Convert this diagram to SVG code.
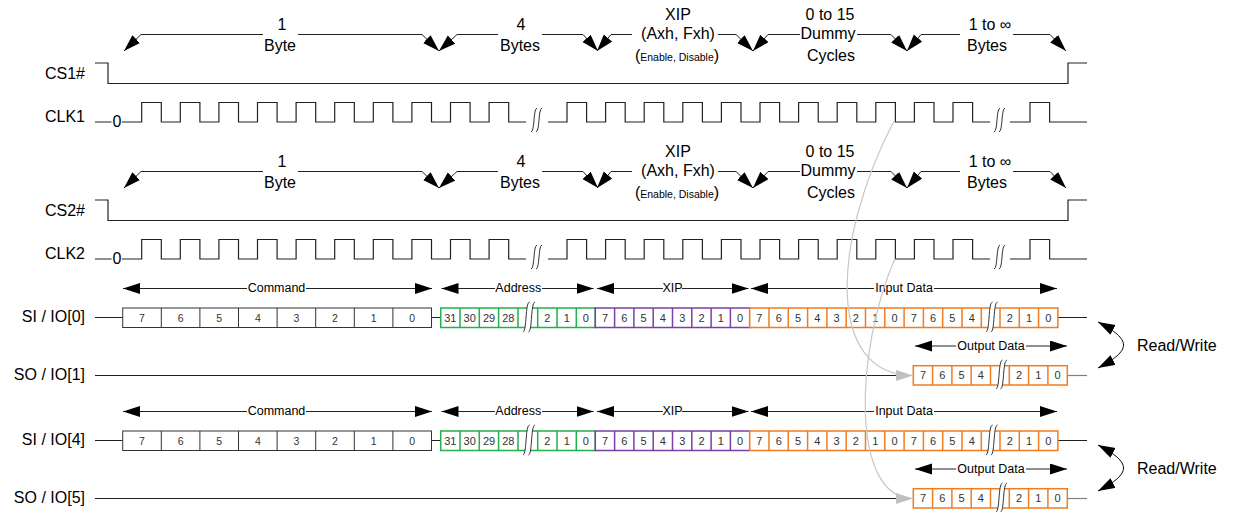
<svg xmlns="http://www.w3.org/2000/svg" width="1233" height="512" viewBox="0 0 1233 512">
<defs>
<marker id="ah" markerUnits="userSpaceOnUse" markerWidth="18" markerHeight="12" refX="17" refY="5.5" orient="auto"><path d="M0,0 L17,5.5 L0,11 z" fill="#000"/></marker>
<marker id="ahr" markerUnits="userSpaceOnUse" markerWidth="18" markerHeight="12" refX="17" refY="5.5" orient="auto-start-reverse"><path d="M0,0 L17,5.5 L0,11 z" fill="#000"/></marker>
<marker id="ahg" markerUnits="userSpaceOnUse" markerWidth="18" markerHeight="12" refX="17" refY="5.5" orient="auto"><path d="M0,0 L17,5.5 L0,11 z" fill="#c0c0c0"/></marker>
</defs>
<style>
text{font-family:"Liberation Sans",Arial,sans-serif;fill:#000}
.lbl{font-size:16px;text-anchor:end}
.big{font-size:16px;text-anchor:middle}
.sm{font-size:12.5px;text-anchor:middle}
.d{font-size:11px;text-anchor:middle;fill:#333}
.dc{font-size:10.5px;text-anchor:middle;fill:#333}
.w{fill:none;stroke:#222;stroke-width:1.2}
.a{fill:none;stroke:#222;stroke-width:1;marker-end:url(#ah)}
.brk{fill:none;stroke:#333;stroke-width:1}
.cmd{fill:#fff;stroke:#333;stroke-width:1}
.grn{fill:#fff;stroke:#22b04b;stroke-width:1.5}
.pur{fill:#fff;stroke:#7a3fa8;stroke-width:1.5}
.org{fill:#fff;stroke:#f07c22;stroke-width:1.5}
.gw{fill:#fff;stroke:none}
.gc{fill:none;stroke:#c8c8c8;stroke-width:1.2;marker-end:url(#ahg)}
</style>

<g id="section1">
  <g id="annot1">
    <text class="big" x="282" y="30">1</text><text class="big" x="280" y="51">Byte</text>
    <text class="big" x="521" y="30">4</text><text class="big" x="520" y="51">Bytes</text>
    <text class="big" x="678" y="20">XIP</text><text class="big" x="678" y="38.5">(Axh, Fxh)</text>
    <text class="big" x="677" y="60.5">(<tspan font-size="10.5">Enable, Disable</tspan>)</text>
    <text class="big" x="830" y="20">0 to 15</text><text class="big" x="828" y="38.5">Dummy</text><text class="big" x="831" y="60.5">Cycles</text>
    <text class="big" x="990" y="30">1 to ∞</text><text class="big" x="987" y="51">Bytes</text>
    <path class="a" d="M263,34.5 H141 L124,51"/>
    <path class="a" d="M298,34.5 H422 L439,51"/>
    <path class="a" d="M498,34.5 H457 L439,51"/>
    <path class="a" d="M542,34.5 H583 L598,51"/>
    <path class="a" d="M632,34.5 H611 L597,51"/>
    <path class="a" d="M718,34.5 H736 L753,51"/>
    <path class="a" d="M800,34.5 H768 L753,51"/>
    <path class="a" d="M857,34.5 H891 L907,51"/>
    <path class="a" d="M960,34.5 H921 L907,51"/>
    <path class="a" d="M1013,34.5 H1050 L1066,51"/>
  </g>
  <g id="cs1">
    <text class="lbl" x="85" y="79">CS1#</text>
    <path class="w" d="M95,63 H108 V83.5 H1068 V63 H1087"/>
  </g>
  <g id="clk1">
    <text class="lbl" x="85" y="122">CLK1</text>
    <text class="big" x="117" y="127">0</text>
    <path class="w" d="M95,122 H111.5 M122,122 H141.7 V102.5 H161.3 V122 H180.3 V102.5 H199.9 V122 H218.9 V102.5 H238.5 V122 H257.5 V102.5 H277.1 V122 H296.1 V102.5 H315.7 V122 H334.7 V102.5 H354.3 V122 H373.3 V102.5 H392.9 V122 H411.9 V102.5 H431.5 V122 H450.5 V102.5 H470.1 V122 H489.1 V102.5 H508.7 V122 H526 M548,122 H567 V102.5 H586.6 V122 H605.6 V102.5 H625.2 V122 H644.2 V102.5 H663.8 V122 H682.8 V102.5 H702.4 V122 H721.4 V102.5 H741 V122 H760 V102.5 H779.6 V122 H798.6 V102.5 H818.2 V122 H837.2 V102.5 H856.8 V122 H875.8 V102.5 H895.4 V122 H914.4 V102.5 H934 V122 H953 V102.5 H972.6 V122 H990 M1010,122 H1030 V102.5 H1049.6 V122 H1087"/>
    <path class="brk" d="M531,132 C535,131 533,109 537,108 M536,132 C540,131 538,109 542,108"/>
    <path class="brk" d="M994,132 C998,131 996,109 1000,108 M999,132 C1003,131 1001,109 1005,108"/>
  </g>
</g>

<g id="section2" transform="translate(0,137)">
  <g id="annot2">
    <text class="big" x="282" y="30">1</text><text class="big" x="280" y="51">Byte</text>
    <text class="big" x="521" y="30">4</text><text class="big" x="520" y="51">Bytes</text>
    <text class="big" x="678" y="20">XIP</text><text class="big" x="678" y="38.5">(Axh, Fxh)</text>
    <text class="big" x="677" y="60.5">(<tspan font-size="10.5">Enable, Disable</tspan>)</text>
    <text class="big" x="830" y="20">0 to 15</text><text class="big" x="828" y="38.5">Dummy</text><text class="big" x="831" y="60.5">Cycles</text>
    <text class="big" x="990" y="30">1 to ∞</text><text class="big" x="987" y="51">Bytes</text>
    <path class="a" d="M263,34.5 H141 L124,51"/>
    <path class="a" d="M298,34.5 H422 L439,51"/>
    <path class="a" d="M498,34.5 H457 L439,51"/>
    <path class="a" d="M542,34.5 H583 L598,51"/>
    <path class="a" d="M632,34.5 H611 L597,51"/>
    <path class="a" d="M718,34.5 H736 L753,51"/>
    <path class="a" d="M800,34.5 H768 L753,51"/>
    <path class="a" d="M857,34.5 H891 L907,51"/>
    <path class="a" d="M960,34.5 H921 L907,51"/>
    <path class="a" d="M1013,34.5 H1050 L1066,51"/>
  </g>
  <g id="cs2">
    <text class="lbl" x="85" y="79">CS2#</text>
    <path class="w" d="M95,63 H108 V83.5 H1068 V63 H1087"/>
  </g>
  <g id="clk2">
    <text class="lbl" x="85" y="122">CLK2</text>
    <text class="big" x="117" y="127">0</text>
    <path class="w" d="M95,122 H111.5 M122,122 H141.7 V102.5 H161.3 V122 H180.3 V102.5 H199.9 V122 H218.9 V102.5 H238.5 V122 H257.5 V102.5 H277.1 V122 H296.1 V102.5 H315.7 V122 H334.7 V102.5 H354.3 V122 H373.3 V102.5 H392.9 V122 H411.9 V102.5 H431.5 V122 H450.5 V102.5 H470.1 V122 H489.1 V102.5 H508.7 V122 H526 M548,122 H567 V102.5 H586.6 V122 H605.6 V102.5 H625.2 V122 H644.2 V102.5 H663.8 V122 H682.8 V102.5 H702.4 V122 H721.4 V102.5 H741 V122 H760 V102.5 H779.6 V122 H798.6 V102.5 H818.2 V122 H837.2 V102.5 H856.8 V122 H875.8 V102.5 H895.4 V122 H914.4 V102.5 H934 V122 H953 V102.5 H972.6 V122 H990 M1010,122 H1030 V102.5 H1049.6 V122 H1087"/>
    <path class="brk" d="M531,132 C535,131 533,109 537,108 M536,132 C540,131 538,109 542,108"/>
    <path class="brk" d="M994,132 C998,131 996,109 1000,108 M999,132 C1003,131 1001,109 1005,108"/>
  </g>
</g>

<g id="data1">
  <g id="si0">
    <text class="sm" x="276.5" y="292">Command</text>
    <path class="a" d="M247,288.5 H123"/><path class="a" d="M306,288.5 H432"/>
    <text class="sm" x="518.3" y="292">Address</text>
    <path class="a" d="M495,288.5 H441.5"/><path class="a" d="M542,288.5 H593.5"/>
    <text class="sm" x="672.5" y="292">XIP</text>
    <path class="a" d="M663,288.5 H597"/><path class="a" d="M682,288.5 H748.5"/>
    <text class="sm" x="904" y="292">Input Data</text>
    <path class="a" d="M874,288.5 H751"/><path class="a" d="M934,288.5 H1057"/>
    <text class="lbl" x="85" y="322">SI / IO[0]</text>
    <path class="w" d="M95,317.5 H122.7 M431.5,317.5 H440.7 M1058,317.5 H1087"/>
    <rect class="cmd" x="122.7" y="308" width="308.8" height="19.5"/>
    <path class="cmd" d="M161.3,308 V327.5 M199.9,308 V327.5 M238.5,308 V327.5 M277.1,308 V327.5 M315.7,308 V327.5 M354.3,308 V327.5 M392.9,308 V327.5"/>
    <text class="dc" x="142" y="321.5">7</text><text class="dc" x="180.6" y="321.5">6</text><text class="dc" x="219.2" y="321.5">5</text><text class="dc" x="257.8" y="321.5">4</text><text class="dc" x="296.4" y="321.5">3</text><text class="dc" x="335" y="321.5">2</text><text class="dc" x="373.6" y="321.5">1</text><text class="dc" x="412.2" y="321.5">0</text>
    <rect class="grn" x="440.7" y="308" width="154.6" height="19.5"/>
    <path class="grn" d="M460,308 V327.5 M479.3,308 V327.5 M498.6,308 V327.5 M518,308 V327.5 M537.7,308 V327.5 M557,308 V327.5 M576.3,308 V327.5"/>
    <path class="gw" d="M523,332 C527,331 525,303 529.5,302 L535,302 C531,303 533,331 528.5,332 z"/>
    <path class="brk" d="M523,332 C527,331 525,303 529.5,302 M528.5,332 C532.5,331 530.5,303 535,302"/>
    <text class="d" x="450.3" y="321.5">31</text><text class="d" x="469.7" y="321.5">30</text><text class="d" x="489" y="321.5">29</text><text class="d" x="508.3" y="321.5">28</text><text class="d" x="547.3" y="321.5">2</text><text class="d" x="566.7" y="321.5">1</text><text class="d" x="585.8" y="321.5">0</text>
    <rect class="pur" x="595.3" y="308" width="154.4" height="19.5"/>
    <path class="pur" d="M614.6,308 V327.5 M633.9,308 V327.5 M653.2,308 V327.5 M672.5,308 V327.5 M691.8,308 V327.5 M711.1,308 V327.5 M730.4,308 V327.5"/>
    <text class="d" x="605" y="321.5">7</text><text class="d" x="624.3" y="321.5">6</text><text class="d" x="643.6" y="321.5">5</text><text class="d" x="662.9" y="321.5">4</text><text class="d" x="682.2" y="321.5">3</text><text class="d" x="701.5" y="321.5">2</text><text class="d" x="720.8" y="321.5">1</text><text class="d" x="740.1" y="321.5">0</text>
    <rect class="org" x="749.7" y="308" width="308.2" height="19.5"/>
    <path class="org" d="M769,308 V327.5 M788.3,308 V327.5 M807.6,308 V327.5 M826.9,308 V327.5 M846.2,308 V327.5 M865.5,308 V327.5 M884.8,308 V327.5 M904.1,308 V327.5 M923.4,308 V327.5 M942.7,308 V327.5 M962,308 V327.5 M981.3,308 V327.5 M1000,308 V327.5 M1019.3,308 V327.5 M1038.6,308 V327.5"/>
    <path class="gw" d="M986,332 C990,331 988,303 992.5,302 L997.5,302 C993.5,303 995.5,331 991,332 z"/>
    <path class="brk" d="M986,332 C990,331 988,303 992.5,302 M991,332 C995,331 993,303 997.5,302"/>
    <text class="d" x="759.4" y="321.5">7</text><text class="d" x="778.7" y="321.5">6</text><text class="d" x="798" y="321.5">5</text><text class="d" x="817.3" y="321.5">4</text><text class="d" x="836.6" y="321.5">3</text><text class="d" x="855.9" y="321.5">2</text><text class="d" x="875.2" y="321.5">1</text><text class="d" x="894.5" y="321.5">0</text><text class="d" x="913.8" y="321.5">7</text><text class="d" x="933.1" y="321.5">6</text><text class="d" x="952.4" y="321.5">5</text><text class="d" x="971.7" y="321.5">4</text><text class="d" x="1009.7" y="321.5">2</text><text class="d" x="1029" y="321.5">1</text><text class="d" x="1048.3" y="321.5">0</text>
  </g>
  <g id="so1">
    <text class="sm" x="991" y="349.5">Output Data</text>
    <path class="a" d="M956,346 H915"/><path class="a" d="M1026,346 H1067"/>
    <text class="lbl" x="85" y="380">SO / IO[1]</text>
    <path class="w" d="M95,375.5 H898"/>
    <path fill="none" stroke="#808080" stroke-width="1.2" d="M1067.5,375.5 H1087"/>
    <rect class="org" x="913.3" y="365.7" width="154" height="19.3"/>
    <path class="org" d="M932.6,365.7 V385 M951.9,365.7 V385 M971.2,365.7 V385 M990.5,365.7 V385 M1009.3,365.7 V385 M1028.6,365.7 V385 M1047.9,365.7 V385"/>
    <path class="gw" d="M996,389 C1000,388 998,361 1002.5,360 L1007,360 C1003,361 1005,388 1000.5,389 z"/>
    <path class="brk" d="M996,389 C1000,388 998,361 1002.5,360 M1000.5,389 C1004.5,388 1002.5,361 1007,360"/>
    <text class="d" x="923" y="379">7</text><text class="d" x="942.3" y="379">6</text><text class="d" x="961.6" y="379">5</text><text class="d" x="980.9" y="379">4</text><text class="d" x="1019" y="379">2</text><text class="d" x="1038.3" y="379">1</text><text class="d" x="1057.6" y="379">0</text>
  </g>
  <g id="rw1">
    <path fill="none" stroke="#000" stroke-width="1" marker-start="url(#ahr)" marker-end="url(#ahr)" d="M1098,322 C1132,340 1132,350 1098,368"/>
    <text font-size="16" x="1137" y="351">Read/Write</text>
  </g>
</g>

<g id="data2" transform="translate(0,123)">
  <g id="si4">
    <text class="sm" x="276.5" y="292">Command</text>
    <path class="a" d="M247,288.5 H123"/><path class="a" d="M306,288.5 H432"/>
    <text class="sm" x="518.3" y="292">Address</text>
    <path class="a" d="M495,288.5 H441.5"/><path class="a" d="M542,288.5 H593.5"/>
    <text class="sm" x="672.5" y="292">XIP</text>
    <path class="a" d="M663,288.5 H597"/><path class="a" d="M682,288.5 H748.5"/>
    <text class="sm" x="904" y="292">Input Data</text>
    <path class="a" d="M874,288.5 H751"/><path class="a" d="M934,288.5 H1057"/>
    <text class="lbl" x="85" y="322">SI / IO[4]</text>
    <path class="w" d="M95,317.5 H122.7 M431.5,317.5 H440.7 M1058,317.5 H1087"/>
    <rect class="cmd" x="122.7" y="308" width="308.8" height="19.5"/>
    <path class="cmd" d="M161.3,308 V327.5 M199.9,308 V327.5 M238.5,308 V327.5 M277.1,308 V327.5 M315.7,308 V327.5 M354.3,308 V327.5 M392.9,308 V327.5"/>
    <text class="dc" x="142" y="321.5">7</text><text class="dc" x="180.6" y="321.5">6</text><text class="dc" x="219.2" y="321.5">5</text><text class="dc" x="257.8" y="321.5">4</text><text class="dc" x="296.4" y="321.5">3</text><text class="dc" x="335" y="321.5">2</text><text class="dc" x="373.6" y="321.5">1</text><text class="dc" x="412.2" y="321.5">0</text>
    <rect class="grn" x="440.7" y="308" width="154.6" height="19.5"/>
    <path class="grn" d="M460,308 V327.5 M479.3,308 V327.5 M498.6,308 V327.5 M518,308 V327.5 M537.7,308 V327.5 M557,308 V327.5 M576.3,308 V327.5"/>
    <path class="gw" d="M523,332 C527,331 525,303 529.5,302 L535,302 C531,303 533,331 528.5,332 z"/>
    <path class="brk" d="M523,332 C527,331 525,303 529.5,302 M528.5,332 C532.5,331 530.5,303 535,302"/>
    <text class="d" x="450.3" y="321.5">31</text><text class="d" x="469.7" y="321.5">30</text><text class="d" x="489" y="321.5">29</text><text class="d" x="508.3" y="321.5">28</text><text class="d" x="547.3" y="321.5">2</text><text class="d" x="566.7" y="321.5">1</text><text class="d" x="585.8" y="321.5">0</text>
    <rect class="pur" x="595.3" y="308" width="154.4" height="19.5"/>
    <path class="pur" d="M614.6,308 V327.5 M633.9,308 V327.5 M653.2,308 V327.5 M672.5,308 V327.5 M691.8,308 V327.5 M711.1,308 V327.5 M730.4,308 V327.5"/>
    <text class="d" x="605" y="321.5">7</text><text class="d" x="624.3" y="321.5">6</text><text class="d" x="643.6" y="321.5">5</text><text class="d" x="662.9" y="321.5">4</text><text class="d" x="682.2" y="321.5">3</text><text class="d" x="701.5" y="321.5">2</text><text class="d" x="720.8" y="321.5">1</text><text class="d" x="740.1" y="321.5">0</text>
    <rect class="org" x="749.7" y="308" width="308.2" height="19.5"/>
    <path class="org" d="M769,308 V327.5 M788.3,308 V327.5 M807.6,308 V327.5 M826.9,308 V327.5 M846.2,308 V327.5 M865.5,308 V327.5 M884.8,308 V327.5 M904.1,308 V327.5 M923.4,308 V327.5 M942.7,308 V327.5 M962,308 V327.5 M981.3,308 V327.5 M1000,308 V327.5 M1019.3,308 V327.5 M1038.6,308 V327.5"/>
    <path class="gw" d="M986,332 C990,331 988,303 992.5,302 L997.5,302 C993.5,303 995.5,331 991,332 z"/>
    <path class="brk" d="M986,332 C990,331 988,303 992.5,302 M991,332 C995,331 993,303 997.5,302"/>
    <text class="d" x="759.4" y="321.5">7</text><text class="d" x="778.7" y="321.5">6</text><text class="d" x="798" y="321.5">5</text><text class="d" x="817.3" y="321.5">4</text><text class="d" x="836.6" y="321.5">3</text><text class="d" x="855.9" y="321.5">2</text><text class="d" x="875.2" y="321.5">1</text><text class="d" x="894.5" y="321.5">0</text><text class="d" x="913.8" y="321.5">7</text><text class="d" x="933.1" y="321.5">6</text><text class="d" x="952.4" y="321.5">5</text><text class="d" x="971.7" y="321.5">4</text><text class="d" x="1009.7" y="321.5">2</text><text class="d" x="1029" y="321.5">1</text><text class="d" x="1048.3" y="321.5">0</text>
  </g>
  <g id="so5">
    <text class="sm" x="991" y="349.5">Output Data</text>
    <path class="a" d="M956,346 H915"/><path class="a" d="M1026,346 H1067"/>
    <text class="lbl" x="85" y="380">SO / IO[5]</text>
    <path class="w" d="M95,375.5 H898"/>
    <path fill="none" stroke="#808080" stroke-width="1.2" d="M1067.5,375.5 H1087"/>
    <rect class="org" x="913.3" y="365.7" width="154" height="19.3"/>
    <path class="org" d="M932.6,365.7 V385 M951.9,365.7 V385 M971.2,365.7 V385 M990.5,365.7 V385 M1009.3,365.7 V385 M1028.6,365.7 V385 M1047.9,365.7 V385"/>
    <path class="gw" d="M996,389 C1000,388 998,361 1002.5,360 L1007,360 C1003,361 1005,388 1000.5,389 z"/>
    <path class="brk" d="M996,389 C1000,388 998,361 1002.5,360 M1000.5,389 C1004.5,388 1002.5,361 1007,360"/>
    <text class="d" x="923" y="379">7</text><text class="d" x="942.3" y="379">6</text><text class="d" x="961.6" y="379">5</text><text class="d" x="980.9" y="379">4</text><text class="d" x="1019" y="379">2</text><text class="d" x="1038.3" y="379">1</text><text class="d" x="1057.6" y="379">0</text>
  </g>
  <g id="rw2">
    <path fill="none" stroke="#000" stroke-width="1" marker-start="url(#ahr)" marker-end="url(#ahr)" d="M1098,322 C1132,340 1132,350 1098,368"/>
    <text font-size="16" x="1137" y="351">Read/Write</text>
  </g>
</g>

<g id="connectors">
  <path class="gc" d="M894,121 C832,240 825,375.5 913,375.5"/>
  <path class="gc" d="M895,258.5 C855,350 850,498.5 913,498.5"/>
</g>
</svg>
